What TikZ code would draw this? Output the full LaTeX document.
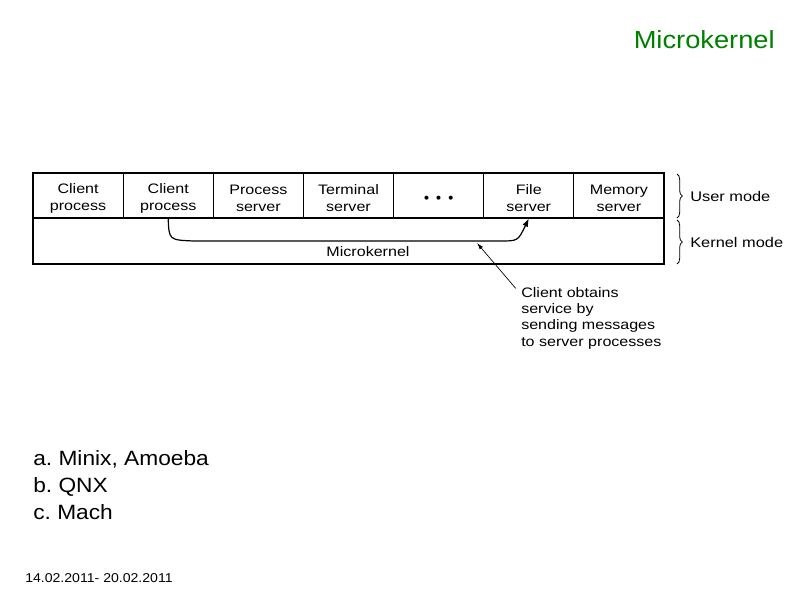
\documentclass[tikz,border=0pt]{standalone}
\usepackage{fontspec}
\setmainfont{Liberation Sans}
\newfontfamily\figfont[FakeStretch=1.17]{Liberation Sans}
\newfontfamily\slidefont[FakeStretch=1.1]{Liberation Sans}
\usepackage{tikz}
\usetikzlibrary{arrows.meta,decorations.pathreplacing}
\definecolor{titlegreen}{RGB}{0,128,0}
\frenchspacing

\begin{document}
\begin{tikzpicture}[x=0.75pt, y=-0.75pt,
    cell/.style={draw, line width=0.9pt, minimum width=67.6pt, minimum height=33.75pt, inner sep=0pt},
    celltext/.style={align=center, inner sep=0pt, yshift=-2.2pt, font=\figfont\fontsize{10.3}{12.75}\selectfont},
    modebrace/.style={decorate, decoration={brace, amplitude=4pt}, line width=0.6pt},
    modelabel/.style={anchor=west, inner sep=0pt, font=\figfont\fontsize{10.5}{12.75}\selectfont}]
    \useasboundingbox (0,0) rectangle (800,600);

    % title
    \node[anchor=east, inner sep=0pt, text=titlegreen, font=\slidefont\fontsize{18.6}{22}\selectfont] (title) at (775,40) {Microkernel};

    % user mode row
    \foreach \name/\txt [count=\i] in {cpa/{Client\\process}, cpb/{Client\\process},
        ps/{Process\\server}, ts/{Terminal\\server},
        dots/{{\scriptsize$\bullet$\hspace{5pt}$\bullet$\hspace{5pt}$\bullet$}},
        fs/{File\\server}, ms/{Memory\\server}}
      \node[cell, label={[celltext]center:{\txt}}] (\name) at ({33+90.14*(\i-1)+45.07}, 195.5) {};

    % kernel mode row
    \node[draw, line width=0.9pt, minimum width=473.25pt, minimum height=34.5pt, inner sep=0pt] (kern) at (348.5,241) {};
    \node[font=\figfont\fontsize{10.3}{12.75}\selectfont] (klabel) at (368,251.5) {Microkernel};

    % message path
    \draw[line width=0.9pt, -{Latex[length=6pt,width=4.5pt]}]
      (cpb.south) .. controls (169,240) .. (194,241) -- (500,241) .. controls (518,241) .. (fs.south);

    % note
    \node[anchor=north west, align=left, inner sep=0pt, font=\figfont\fontsize{10.3}{12.2}\selectfont] (note) at (521,287)
      {Client obtains\\service by\\sending messages\\to server processes};
    \coordinate (hit) at (477,243);
    \draw[line width=0.5pt, -{Latex[length=5pt,width=3pt]}] ([xshift=-4pt,yshift=-1pt]note.north west) -- (hit);

    % braces
    \draw[modebrace] (677,174) -- (677,218) coordinate[midway] (ub);
    \draw[modebrace] (677,220) -- (677,264) coordinate[midway] (kb);
    \node[modelabel] (umode) at (690,196) {User mode};
    \node[modelabel] (kmode) at (690,242) {Kernel mode};

    % examples
    \node[anchor=north west, align=left, inner sep=0pt, font=\slidefont\fontsize{15.5}{20.25}\selectfont] (list) at (33,450)
      {a. Minix, Amoeba\\b. QNX\\c. Mach};

    \node[anchor=west, inner sep=0pt, font=\slidefont\fontsize{9.6}{11}\selectfont] (date) at (25,578) {14.02.2011- 20.02.2011};
  \end{tikzpicture}
\end{document}
